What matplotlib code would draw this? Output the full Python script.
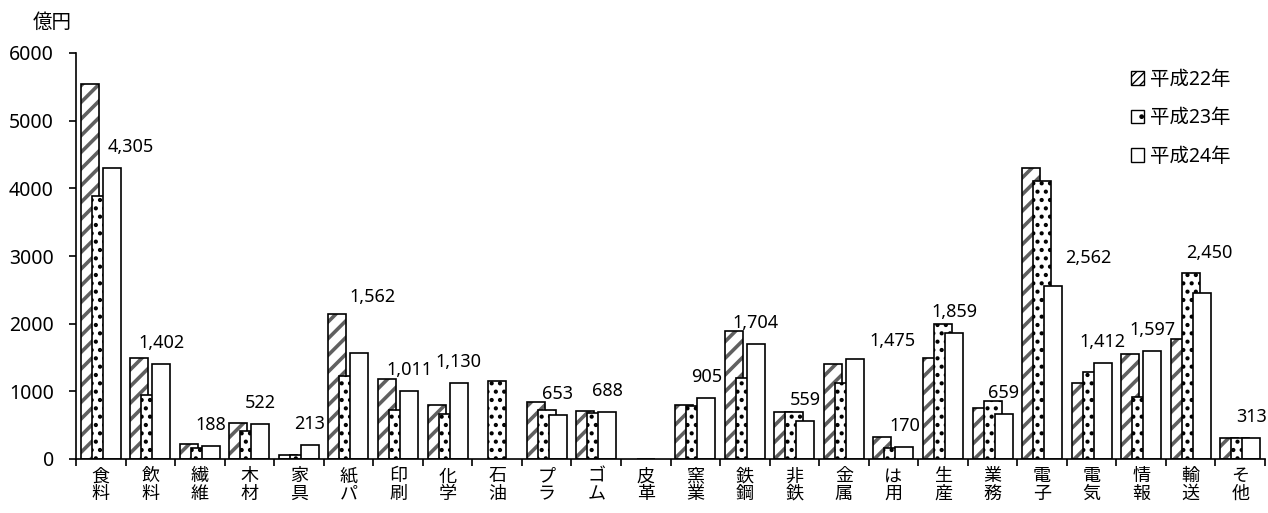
import numpy as np
import matplotlib.pyplot as plt
from matplotlib.patches import Patch

plt.rcParams['font.family'] = ['Noto Sans', 'Noto Sans CJK JP']

categories = ['食料', '飲料', '繊維', '木材', '家具', '紙パ', '印刷', '化学',
              '石油', 'プラ', 'ゴム', '皮革', '窯業', '鉄鋼', '非鉄', '金属',
              'は用', '生産', '業務', '電子', '電気', '情報', '輸送', 'そ他']
years = ['平成22年', '平成23年', '平成24年']
h22 = [5540, 1500, 215, 527, 55, 2140, 1175, 800, np.nan, 840, 705, np.nan,
       800, 1885, 700, 1405, 320, 1490, 760, 4305, 1130, 1550, 1770, 305]
h23 = [3880, 940, 165, 415, 60, 1225, 725, 660, 1155, 720, 685, 5,
       790, 1190, 690, 1120, 160, 1995, 855, 4115, 1285, 920, 2750, 310]
h24 = [4305, 1402, 188, 522, 213, 1562, 1011, 1130, np.nan, 653, 688, np.nan,
       905, 1704, 559, 1475, 170, 1859, 659, 2562, 1412, 1597, 2450, 313]

# hand-moved data labels (pixels)
nudge = {'食料': (19, 0), '紙パ': (13, 35), '金属': (38, -3),
         '電子': (35, 7), '輸送': (8, 19)}

W, H = 1268, 513
fig = plt.figure(figsize=(W / 100, H / 100), dpi=100)
ax = fig.add_axes([76 / W, 54 / H, 1189 / W, 406 / H])

x = np.arange(len(categories))
bw, off = 0.363, 0.222
gray = '#606060'

# 平成22年: gray stripes, then black outline on top
b22 = ax.bar(x - off, h22, bw, facecolor='white', edgecolor=gray, hatch='//', linewidth=0)
for p in b22:
    if hasattr(p, 'set_hatch_linewidth'):
        p.set_hatch_linewidth(2.6)
ax.bar(x - off, h22, bw, facecolor='none', edgecolor='black', linewidth=1.2)
b23 = ax.bar(x, h23, bw, facecolor='white', edgecolor='black', hatch='..', linewidth=1.2)
for p in b23:
    if hasattr(p, 'set_hatch_linewidth'):
        p.set_hatch_linewidth(1.8)
ax.bar(x + off, h24, bw, facecolor='white', edgecolor='black', linewidth=1.2)

for i, (c, v) in enumerate(zip(categories, h24)):
    if np.isnan(v):
        continue
    dx, dy = nudge.get(c, (0, 0))
    ax.annotate(f'{v:,.0f}', (x[i] + off, v), xytext=(dx, 21 + dy),
                textcoords='offset pixels', ha='center', va='center', fontsize=13)

ax.set_xlim(-0.5, len(categories) - 0.5)
ax.set_ylim(0, 6000)
ax.set_yticks(np.arange(0, 6001, 1000))
ax.set_xticks(np.arange(len(categories) + 1) - 0.5)
ax.set_xticklabels([])
ax.set_xticks(x, minor=True)
ax.set_xticklabels(['\n'.join(c) for c in categories], minor=True,
                   fontsize=13, linespacing=0.97)
ax.tick_params(axis='x', which='minor', length=0, pad=6)
ax.tick_params(axis='x', which='major', length=5, width=1.2)
ax.tick_params(axis='y', length=5, width=1.2, labelsize=14, pad=11)
for s in ['top', 'right']:
    ax.spines[s].set_visible(False)
for s in ['left', 'bottom']:
    ax.spines[s].set_linewidth(1.2)

fig.text(52 / W, 1 - 23 / H, '億円', ha='center', va='center', fontsize=14)

handles = [Patch(facecolor='white', edgecolor='black', hatch='////'),
           Patch(facecolor='white', edgecolor='black', hatch='.'),
           Patch(facecolor='white', edgecolor='black')]
fig.legend(handles, years, loc='upper left', bbox_to_anchor=(1121 / W, 1 - 60 / H),
           frameon=False, fontsize=14, handlelength=0.7, handleheight=0.7,
           handletextpad=0.3, labelspacing=0.95, borderpad=0)

fig.savefig('out.png', dpi=100)
